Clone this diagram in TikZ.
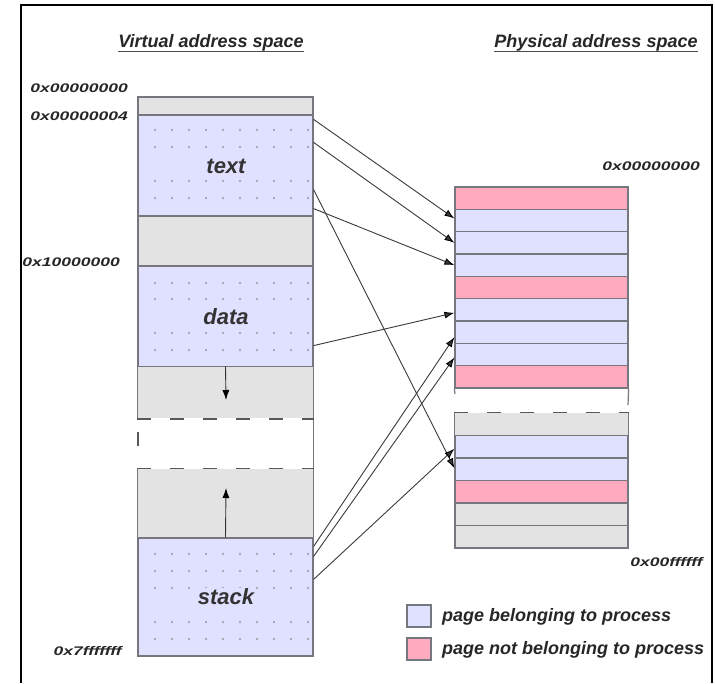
\documentclass[tikz,border=0pt]{standalone}
\usepackage{fontspec}
\setmainfont{Liberation Sans}
\newfontfamily\addrfont[FakeStretch=1.4]{Liberation Sans}
\usetikzlibrary{arrows.meta}
\definecolor{pageown}{RGB}{224,224,255}
\definecolor{pageother}{RGB}{255,170,190}
\definecolor{pagefree}{RGB}{227,227,227}
\definecolor{edgegray}{RGB}{118,118,126}
\tikzset{
  x=1pt, y=-1pt, % one unit is one pixel, y runs downwards
  >={Latex[length=10pt,width=7pt,black]}, % filled black arrow heads
  vblock/.style={draw=edgegray, line width=1.2pt, inner sep=0pt, minimum width=175pt}, % virtual segments
  pblock/.style={draw=edgegray, line width=1.2pt, inner sep=0pt, minimum width=173pt, minimum height=22.33pt}, % physical pages
  sideline/.style={edgegray, line width=1.2pt},
  gapline/.style={gray!70!black, line width=1.8pt, dash pattern=on 14pt off 19pt},
  mapping/.style={->, gray!45!black, line width=0.9pt}, % page table mapping
  title/.style={font=\fontsize{18}{20}\selectfont\bfseries\itshape, text=black!85, inner sep=0pt},
  addr/.style={font=\addrfont\fontsize{12.5}{14}\selectfont\bfseries\itshape, text=black!85, inner sep=0pt},
  seglabel/.style={font=\fontsize{22}{24}\selectfont\bfseries\itshape, text=black!80, fill=pageown, inner sep=1pt},
  legend/.style={font=\fontsize{18}{20}\selectfont\bfseries\itshape, text=black!85, inner sep=0pt, anchor=west},
}

\begin{document}
\begin{tikzpicture}
    \useasboundingbox (0,0) rectangle (715,683);
    % outer frame
    \draw[line width=2pt] (21,683) -- (21,5) -- (712,5) -- (712,683);

    % titles
    \node[title] (vtitle) at (211,43) {Virtual address space};
    \node[title] (ptitle) at (596,43) {Physical address space};
    \draw[black!70, line width=1.4pt] (vtitle.south west) -- (vtitle.south east);
    \draw[black!70, line width=1.4pt] (ptitle.south west) -- (ptitle.south east);

    % virtual address space
    \node[vblock, fill=pagefree, minimum height=18pt] (vtop) at (225.5,106) {};
    \node[vblock, fill=pageown, minimum height=101pt] (vtext) at (225.5,165.5) {};
    \node[vblock, fill=pagefree, minimum height=50pt] (vhole) at (225.5,241) {};
    \node[vblock, fill=pageown, minimum height=101pt] (vdata) at (225.5,316.5) {};
    \node[vblock, draw=none, fill=pagefree, minimum height=51pt] (vheap) at (225.5,392.5) {};
    \node[vblock, draw=none, fill=pagefree, minimum height=69pt] (vfree) at (225.5,503.5) {};
    \node[vblock, fill=pageown, minimum height=118pt] (vstack) at (225.5,597) {};
    \draw[sideline] (vheap.south west) -- (vheap.north west);
    \draw[sideline] (vheap.north east) -- (vfree.south east);
    \draw[sideline] (vfree.north west) -- (vfree.south west);
    \draw[gapline] (vheap.south west) -- (vheap.south east);
    \draw[gapline] (vfree.north west) -- (vfree.north east);
    \coordinate (gaptop) at (138,432);
    \coordinate (gapbot) at (138,450);
    \draw[gapline] (gaptop) -- (gapbot);

    % dots on the used segments
    \foreach \y in {130,147,181,198,283,299,333,350,554,571,588,622,639}
      \foreach \x in {0,...,9}
        \fill[gray!80] ({155+17*\x},\y) circle (1.1pt);

    \node[seglabel] (textlbl) at (226,166) {text};
    \node[seglabel] (datalbl) at (226,317) {data};
    \node[seglabel] (stacklbl) at (226,597) {stack};

    % growth of heap and stack
    \coordinate (heapend) at (226,400);
    \coordinate (stackend) at (226,488);
    \draw[->, black!80, line width=0.9pt] (vheap.north) -- (heapend);
    \draw[->, black!80, line width=0.9pt] (vstack.north) -- (stackend);

    % physical address space
    \foreach \i/\c in {1/pageother,2/pageown,3/pageown,4/pageown,5/pageother,6/pageown,7/pageown,8/pageown,9/pageother}
      \node[pblock, fill=\c] (p\i) at (541.5,{187+22.33*(\i-0.5)}) {};
    \node[pblock, draw=none, fill=pagefree, minimum height=22.5pt] (q1) at (541.5,424.25) {};
    \foreach \i/\c in {2/pageown,3/pageown,4/pageother,5/pagefree,6/pagefree}
      \node[pblock, fill=\c, minimum height=22.5pt] (q\i) at (541.5,{413+22.5*(\i-0.5)}) {};
    \coordinate (cutleft) at (455,394);
    \coordinate (cutright) at (628,405);
    \draw[sideline] (p9.south west) -- (cutleft);
    \draw[sideline] (p9.south east) -- (cutright);
    \draw[sideline] (q1.north west) -- (q1.south west);
    \draw[sideline] (q1.north east) -- (q1.south east);
    \draw[gapline] (q1.north west) -- (q1.north east);

    % addresses
    \node[addr, anchor=east] (vaddr0) at (128,88) {0x00000000};
    \node[addr, anchor=east] (vaddr4) at (128,116) {0x00000004};
    \node[addr, anchor=east] (vaddrdata) at (120,262) {0x10000000};
    \node[addr, anchor=east] (vaddrend) at (122,651) {0x7fffffff};
    \node[addr, anchor=east] (paddr0) at (700,166) {0x00000000};
    \node[addr, anchor=east] (paddrend) at (703,562) {0x00ffffff};

    % page mappings
    \path[mapping] ([yshift=-5pt]vtext.north east) edge ([yshift=2pt]p2.west)
      ([yshift=-28pt]vtext.north east) edge (p3.west)
      ([yshift=8pt]vtext.south east) edge (p4.west)
      ([yshift=27pt]vtext.south east) edge ([yshift=1pt]q3.west)
      ([yshift=22pt]vdata.south east) edge ([yshift=-3pt]p6.west)
      ([yshift=-9pt]vstack.north east) edge ([yshift=-5pt]p7.west)
      ([yshift=-19pt]vstack.north east) edge ([yshift=-3pt]p8.west)
      ([yshift=-42pt]vstack.north east) edge ([yshift=-2pt]q2.west);

    % legend
    \node[pblock, fill=pageown, minimum width=24pt, minimum height=22pt] (keyown) at (419,616) {};
    \node[pblock, fill=pageother, minimum width=24pt, minimum height=22pt] (keyother) at (419,649) {};
    \node[legend] (keyowntxt) at (442,617) {page belonging to process};
    \node[legend] (keyothertxt) at (442,650) {page not belonging to process};
\end{tikzpicture}
\end{document}
